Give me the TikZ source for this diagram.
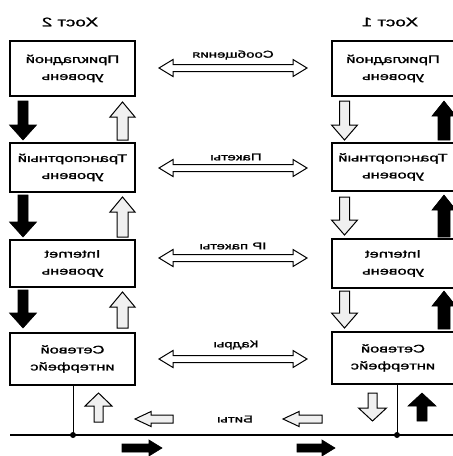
\documentclass[tikz,border=0pt]{standalone}
\usepackage{fontspec}
\setmainfont{Liberation Sans}[FakeBold=1.2]
\usetikzlibrary{calc}

% mirrored, widened text
\newcommand{\mir}[1]{\scalebox{-1.5}[1]{#1}}
% single block arrow along +x: length, head length, head half-width, shaft half-width
\newcommand{\arrowpath}[4]{(0,-#4) -- (#1-#2,-#4) -- (#1-#2,-#3) -- (#1,0) -- (#1-#2,#3) -- (#1-#2,#4) -- (0,#4) -- cycle}
% double-headed block arrow along +x
\newcommand{\dblpath}[4]{(0,0) -- (#2,-#3) -- (#2,-#4) -- (#1-#2,-#4) -- (#1-#2,-#3) -- (#1,0) -- (#1-#2,#3) -- (#1-#2,#4) -- (#2,#4) -- (#2,#3) -- cycle}
% style, x, y, angle, length, head, head half-width, shaft half-width
\newcommand{\blockarrow}[8]{\begin{scope}[shift={(#2,#3)},rotate=#4]\draw[#1]\arrowpath{#5}{#6}{#7}{#8};\end{scope}}

\tikzset{
  box/.style={draw, line width=1.1pt, inner sep=0pt, align=center,
              font=\fontsize{11}{17}\selectfont},
  host/.style={font=\fontsize{12.5}{14}\selectfont},
  lbl/.style={font=\fontsize{10}{12}\selectfont, inner sep=0pt},
  solidarr/.style={fill=black, draw=black, line width=0.6pt},
  openarr/.style={draw=black, fill=gray!12, line width=1pt},
  dblarr/.style={draw=black, fill=white, line width=1pt},
}

\begin{document}
\begin{tikzpicture}[x=1pt, y=-1pt]
\useasboundingbox (0,0) rectangle (453,456);
\clip (0,0) rectangle (453,456);

% host titles
\node[host] (h2) at (70,22) {\mir{Хост 2}};
\node[host] (h1) at (390,22) {\mir{Хост 1}};

% layer boxes, left stack
\node[box, minimum width=125pt, minimum height=55pt] (a2) at (72.5,68.5) {\mir{Прикладной}\\\mir{уровень}};
\node[box, minimum width=125pt, minimum height=49pt] (t2) at (72.5,167.5) {\mir{Транспортный}\\\mir{уровень}};
\node[box, minimum width=125pt, minimum height=47pt] (i2) at (72.5,263.5) {\mir{Internet}\\\mir{уровень}};
\node[box, minimum width=125pt, minimum height=52pt] (n2) at (72.5,359) {\mir{Сетевой}\\\mir{интерфейс}};

% layer boxes, right stack
\node[box, minimum width=122pt, minimum height=55pt] (a1) at (393,68.5) {\mir{Прикладной}\\\mir{уровень}};
\node[box, minimum width=122pt, minimum height=48pt] (t1) at (393,167) {\mir{Транспортный}\\\mir{уровень}};
\node[box, minimum width=122pt, minimum height=49pt] (i1) at (393,263.5) {\mir{Internet}\\\mir{уровень}};
\node[box, minimum width=122pt, minimum height=52pt] (n1) at (393,358) {\mir{Сетевой}\\\mir{интерфейс}};

% peer-to-peer exchange arrows
\foreach \yy in {68,168,258,359}{
  \begin{scope}[shift={(159,\yy)}]\draw[dblarr]\dblpath{148}{14}{8.5}{3.5};\end{scope}
}
\node[lbl] (m1) at (233,55) {\mir{Сообщения}};
\node[lbl] (m2) at (236,157) {\mir{Пакеты}};
\node[lbl] (m3) at (233,246) {\mir{IP пакеты}};
\node[lbl] (m4) at (236,345) {\mir{Кадры}};
\node[lbl] (m5) at (235,419) {\mir{Биты}};

% vertical flow, left stack
\blockarrow{solidarr}{23}{101}{-90}{39}{15}{13.5}{5}
\blockarrow{solidarr}{23}{195}{-90}{42}{15}{13.5}{5}
\blockarrow{solidarr}{23}{290}{-90}{38}{15}{13.5}{5}
\blockarrow{openarr}{122.5}{140}{90}{38}{15}{12.5}{5.5}
\blockarrow{openarr}{122.5}{237}{90}{40}{15}{12.5}{5.5}
\blockarrow{openarr}{122.5}{328}{90}{36}{15}{12.5}{5.5}

% vertical flow, right stack
\blockarrow{openarr}{344.5}{101}{-90}{39}{15}{13}{5}
\blockarrow{openarr}{344.5}{197}{-90}{38}{15}{13}{5}
\blockarrow{openarr}{344.5}{291}{-90}{37}{15}{13}{5}
\blockarrow{solidarr}{444}{140}{90}{39}{15}{12}{6}
\blockarrow{solidarr}{444}{237}{90}{42}{15}{12}{6}
\blockarrow{solidarr}{444}{329}{90}{38}{15}{12}{6}

% physical medium
\coordinate (busL) at (10,435);
\coordinate (busR) at (453,435);
\coordinate (tap2) at (73,435);
\coordinate (tap1) at (397,435);
\draw[line width=1.2pt] (busL) -- (busR);
\draw[line width=1pt] (tap2 |- n2.south) -- (tap2);
\draw[line width=1pt] (tap1 |- n1.south) -- (tap1);
\fill (tap2) circle (3);
\fill (tap1) circle (3);

% arrows at the medium
\blockarrow{openarr}{98.5}{422}{90}{29}{13}{13.5}{4.5}
\blockarrow{openarr}{372.5}{393}{-90}{28}{13}{14}{4.5}
\blockarrow{solidarr}{422}{421}{90}{28}{13}{14}{5}
\blockarrow{openarr}{173}{419}{180}{38}{16}{7.5}{4}
\blockarrow{openarr}{322}{419}{180}{39}{16}{7.5}{4}
\blockarrow{solidarr}{122}{448}{0}{40}{13}{8}{4}
\blockarrow{solidarr}{297}{448}{0}{38}{13}{8}{4}
\end{tikzpicture}
\end{document}
